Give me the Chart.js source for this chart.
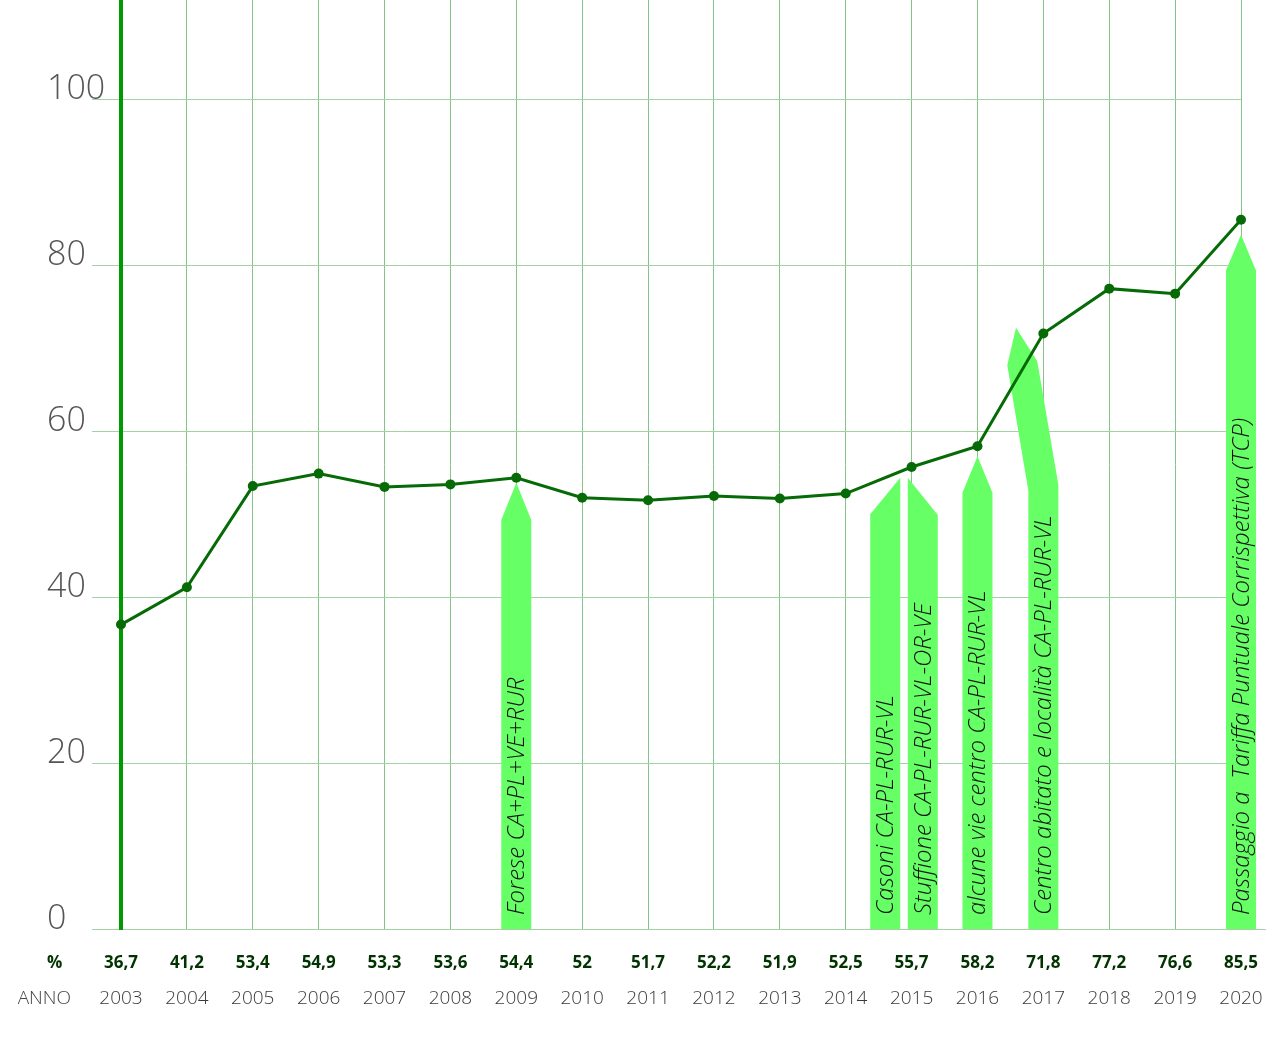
<!DOCTYPE html>
<html>
<head>
<meta charset="utf-8">
<script src="https://cdn.jsdelivr.net/npm/chart.js@4.4.1/dist/chart.umd.min.js"></script>
<style>
html,body{margin:0;padding:0;background:#fff;overflow:hidden}
#wrap{width:1281px;height:1038px;position:relative}
</style>
</head>
<body>
<div id="wrap"><canvas id="c"></canvas></div>
<script>
// ---- data ----
const years = ['2003','2004','2005','2006','2007','2008','2009','2010','2011','2012','2013','2014','2015','2016','2017','2018','2019','2020'];
const pct = [36.7,41.2,53.4,54.9,53.3,53.6,54.4,52,51.7,52.2,51.9,52.5,55.7,58.2,71.8,77.2,76.6,85.5];
const yTickValues = [0,20,40,60,80,100];

// annotation arrows (year position on axis, tip value, shoulder value)
const arrowYears = [2009, 2014.6, 2015.17, 2016, 2017, 2020];
const arrowTips = [53.8, 54.4, 54.4, 57.0, 72.5, 83.7];
const arrowShoulders = [49.3, 50.0, 49.9, 52.6, 68.2, 79.4];
const arrowKinds = ['full','left','right','full','bent','full'];
const arrowTexts = [
  'Forese CA+PL+VE+RUR',
  'Casoni CA-PL-RUR-VL',
  'Stuffione CA-PL-RUR-VL-OR-VE',
  'alcune vie centro CA-PL-RUR-VL',
  'Centro abitato e località CA-PL-RUR-VL',
  'Passaggio a  Tariffa Puntuale Corrispettiva (TCP)'
];
// bent arrow geometry (axis units)
const bentElbowValue = 53.2;
const bentHeadYear = 2016.68;
const bentTipYear = 2016.585;

const fmt = v => String(v).replace('.', ',');

const GRID_V = '#86c386';
const GRID_H = '#a3d3a3';
const FONT = '"Open Sans", "Noto Sans", sans-serif';

const arrowsPlugin = {
  id: 'arrows',
  beforeDatasetsDraw(chart) {
    const ctx = chart.ctx;
    const xs = chart.scales.x, ys = chart.scales.y;
    const px = yr => xs.getPixelForValue(yr - 2003);
    const py = v => ys.getPixelForValue(v);
    const hw = 15;
    const bottom = py(0);
    ctx.save();
    for (let i = 0; i < arrowYears.length; i++) {
      const cx = px(arrowYears[i]);
      const tip = py(arrowTips[i]);
      const sh = py(arrowShoulders[i]);
      ctx.beginPath();
      const k = arrowKinds[i];
      if (k === 'full') {
        ctx.moveTo(cx - hw, bottom); ctx.lineTo(cx - hw, sh); ctx.lineTo(cx, tip);
        ctx.lineTo(cx + hw, sh); ctx.lineTo(cx + hw, bottom);
      } else if (k === 'left') {
        ctx.moveTo(cx - hw, bottom); ctx.lineTo(cx - hw, sh); ctx.lineTo(cx + hw, tip);
        ctx.lineTo(cx + hw, bottom);
      } else if (k === 'right') {
        ctx.moveTo(cx - hw, bottom); ctx.lineTo(cx - hw, tip); ctx.lineTo(cx + hw, sh);
        ctx.lineTo(cx + hw, bottom);
      } else {
        const elbow = py(bentElbowValue);
        const hx = px(bentHeadYear);
        const tx = px(bentTipYear);
        ctx.moveTo(cx - hw, bottom); ctx.lineTo(cx - hw, elbow + 3); ctx.lineTo(hx - hw, sh + 2);
        ctx.lineTo(tx, tip); ctx.lineTo(hx + hw, sh - 2); ctx.lineTo(cx + hw, elbow - 3);
        ctx.lineTo(cx + hw, bottom);
      }
      ctx.closePath();
      ctx.fillStyle = '#66ff66';
      ctx.fill();

      ctx.save();
      ctx.translate(cx, bottom - 14);
      ctx.rotate(-Math.PI / 2);
      ctx.font = 'italic 300 24px ' + FONT;
      ctx.fillStyle = '#111';
      ctx.textAlign = 'left';
      ctx.textBaseline = 'middle';
      ctx.fillText(arrowTexts[i], 0, 1);
      ctx.restore();
    }
    ctx.restore();
  },
  afterDraw(chart) {
    const ctx = chart.ctx;
    const xs = chart.scales.x, x2 = chart.scales.x2, ys = chart.scales.y;
    ctx.save();
    // extend bottom axis line
    const y0 = Math.round(ys.getPixelForValue(0)) + 0.5;
    ctx.strokeStyle = GRID_H;
    ctx.lineWidth = 1;
    ctx.beginPath();
    ctx.moveTo(xs.right, y0);
    ctx.lineTo(xs.right + 25, y0);
    ctx.stroke();
    // row captions
    const o1 = xs.options.ticks, o2 = x2.options.ticks;
    ctx.textBaseline = 'middle';
    ctx.font = 'bold 17px ' + FONT;
    ctx.fillStyle = '#003300';
    ctx.textAlign = 'left';
    ctx.fillText('%', 47, xs.top + o1.padding + 17 * 1.2 / 2);
    ctx.font = '300 19px ' + FONT;
    ctx.fillStyle = '#444';
    ctx.textAlign = 'right';
    ctx.fillText('ANNO', 71, x2.top + o2.padding + 19 * 1.2 / 2);
    ctx.restore();
  }
};

new Chart(document.getElementById('c'), {
  type: 'line',
  data: {
    labels: years,
    datasets: [{
      data: pct,
      borderColor: '#066b06',
      backgroundColor: '#066b06',
      borderWidth: 3,
      pointRadius: 5,
      pointHoverRadius: 5,
      pointBorderWidth: 0,
      pointBackgroundColor: '#066b06',
      tension: 0,
      clip: false
    }]
  },
  options: {
    responsive: true,
    maintainAspectRatio: false,
    animation: false,
    layout: { autoPadding: false, padding: { left: 47, right: 40, top: 0, bottom: 0 } },
    plugins: { legend: { display: false }, tooltip: { enabled: false } },
    scales: {
      x: {
        type: 'category',
        position: 'bottom',
        weight: 0,
        offset: false,
        grid: { color: GRID_V, lineWidth: 1, drawTicks: false },
        border: { display: true, color: GRID_H, width: 1 },
        ticks: {
          autoSkip: false, maxRotation: 0, padding: 24,
          font: { family: FONT, size: 17, weight: 'bold' },
          color: '#003300',
          callback: (v, i) => fmt(pct[i])
        },
        afterFit: s => { s.height = 45; s.paddingLeft = 0; s.paddingRight = 0; }
      },
      x2: {
        type: 'category',
        position: 'bottom',
        weight: 1,
        offset: false,
        labels: years,
        grid: { display: false, drawTicks: false },
        border: { display: false },
        ticks: {
          autoSkip: false, maxRotation: 0, padding: 13,
          font: { family: FONT, size: 19, weight: 300 },
          color: '#3a3a3a'
        },
        afterFit: s => { s.height = 64; s.paddingLeft = 0; s.paddingRight = 0; }
      },
      y: {
        type: 'linear',
        min: 0,
        max: 112,
        grid: { color: GRID_H, lineWidth: 1, drawTicks: true, tickLength: 29, tickColor: GRID_H },
        border: { display: true, color: '#009900', width: 4 },
        ticks: {
          stepSize: 20,
          crossAlign: 'far',
          labelOffset: -10,
          padding: 0,
          font: { family: FONT, size: 34, weight: 300 },
          color: '#555',
          callback: v => String(v)
        },
        afterBuildTicks: s => { s.ticks = yTickValues.map(v => ({ value: v })); },
        afterFit: s => { s.width = 74; s.paddingTop = 0; s.paddingBottom = 0; }
      }
    }
  },
  plugins: [arrowsPlugin]
});
</script>
</body>
</html>
